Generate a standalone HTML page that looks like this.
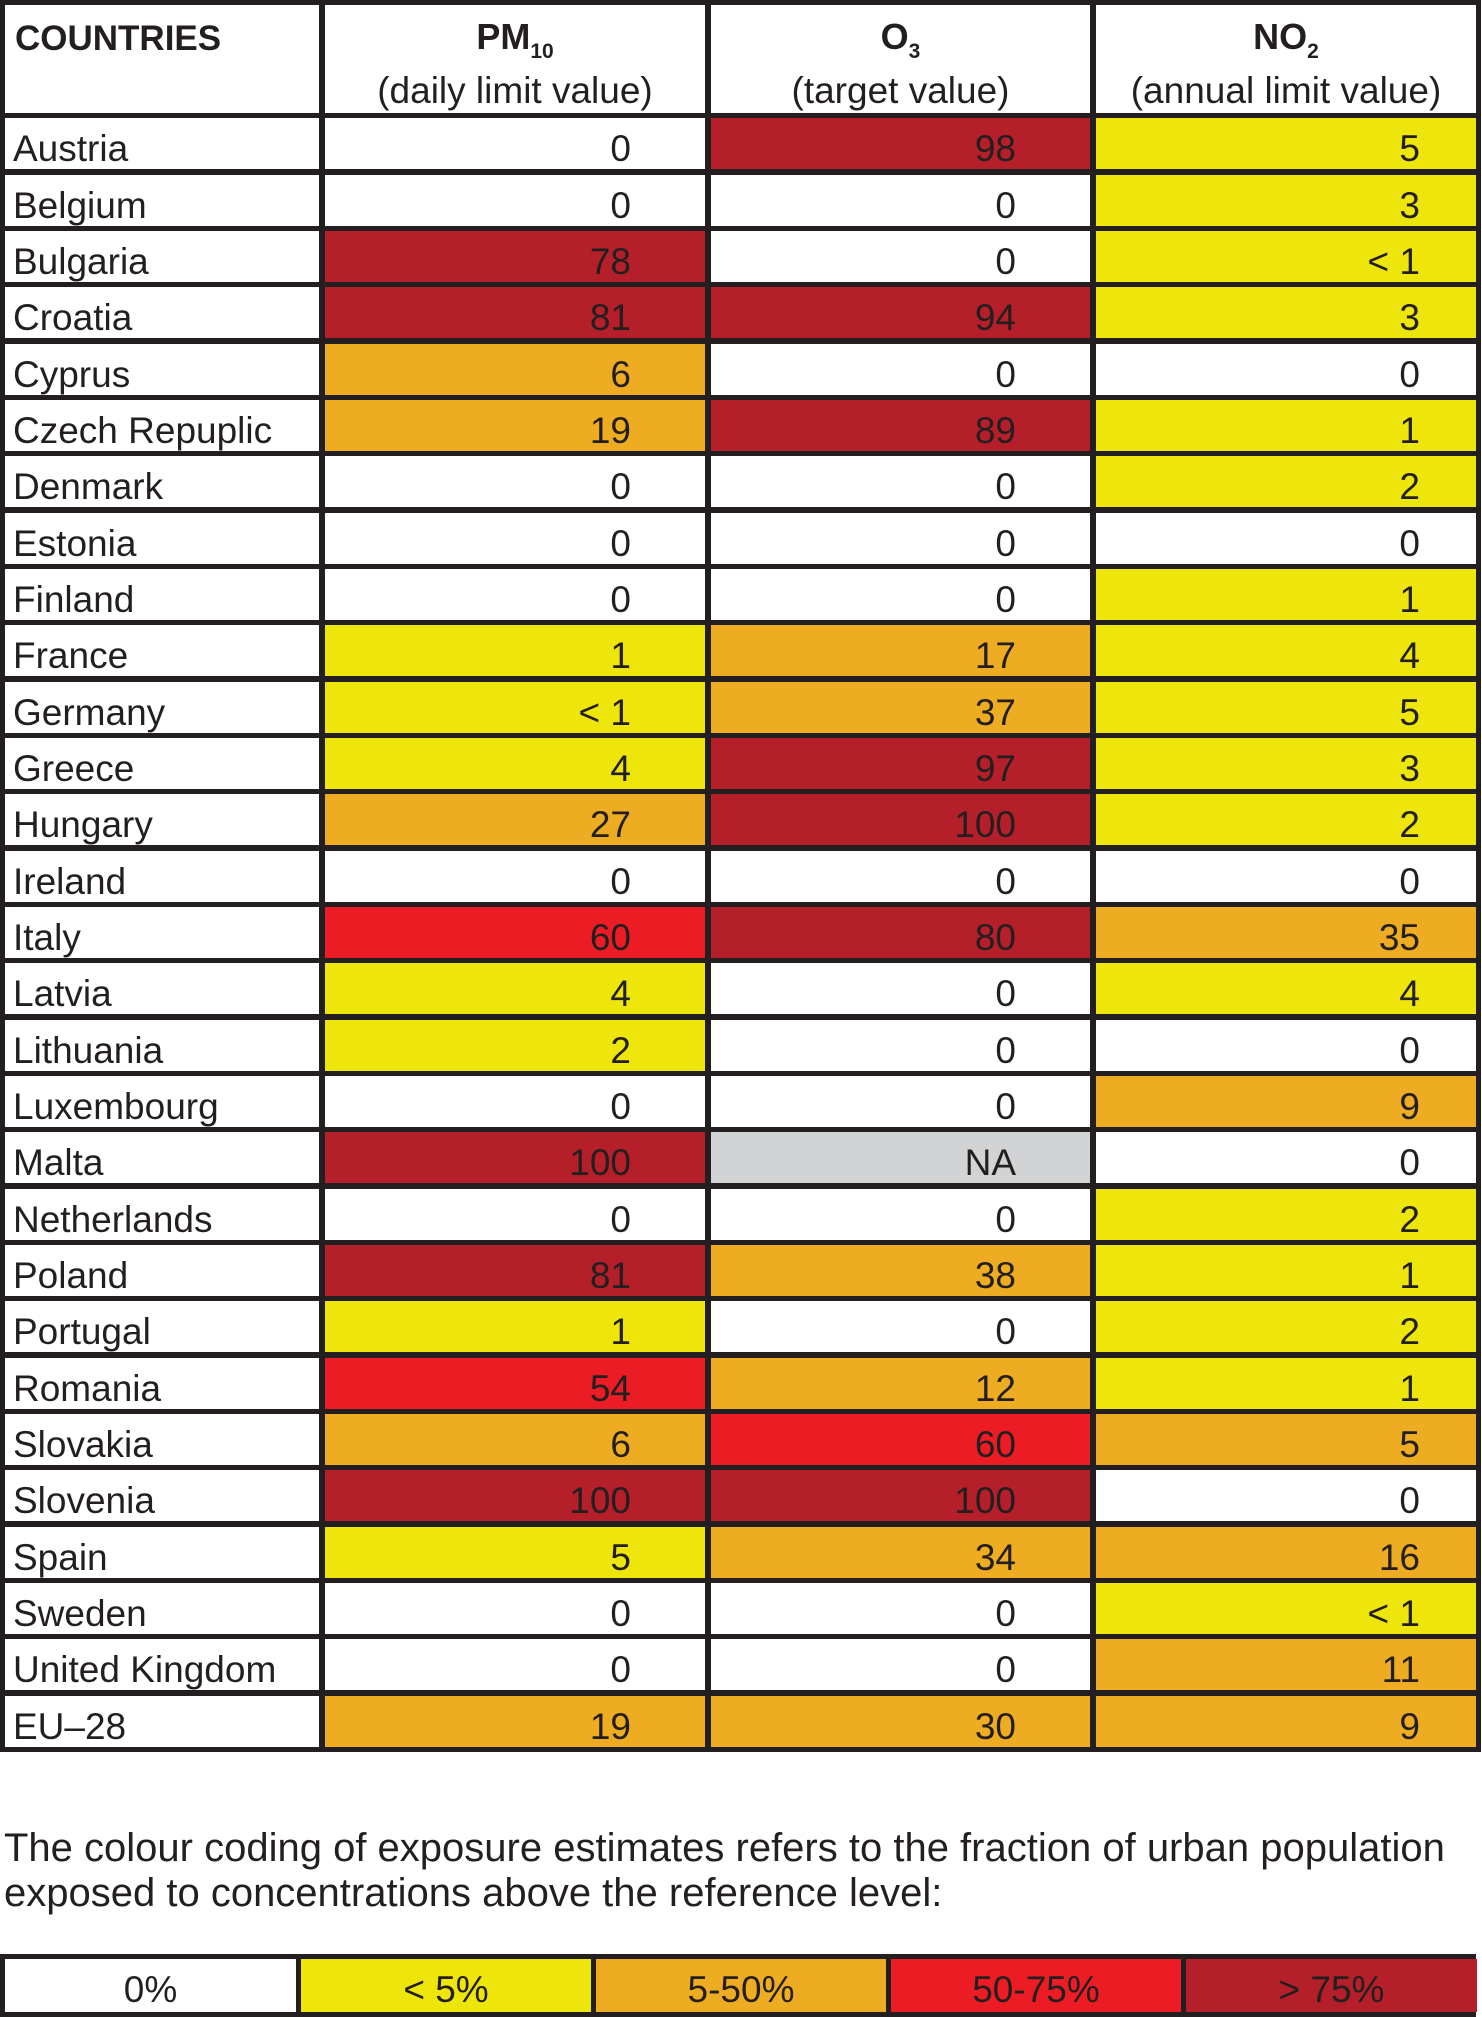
<!DOCTYPE html>
<html><head><meta charset="utf-8">
<style>
html,body{margin:0;padding:0;background:#fff;}
body{width:1482px;height:2017px;position:relative;overflow:hidden;font-family:"Liberation Sans",sans-serif;color:#231F20;}
.g{position:absolute;left:0;top:0;width:1481px;box-sizing:border-box;background:#231F20;padding:5px;display:grid;
grid-template-columns:314px 380px 379px 380px;column-gap:6px;row-gap:5.34px;
grid-template-rows:108px repeat(29,51px);}
.g div{background:#fff;font-size:37px;display:flex;align-items:flex-end;padding-bottom:0;box-sizing:border-box;white-space:nowrap;line-height:40px;}
.g .c{padding-left:8px;}
.g .n{justify-content:flex-end;padding-right:74px;}
.g .n4{justify-content:flex-end;padding-right:56px;}
.g .h{flex-direction:column;align-items:center;justify-content:flex-start;padding:12px 0 0 0;line-height:40px;}
.g .h span+span{margin-top:14px;}
.g .h b{font-size:36px;}
.g .h sub{font-size:21px;font-weight:bold;vertical-align:-9px;line-height:0;}
.Y{background:#EEE60B!important}.O{background:#EDAC22!important}.R{background:#EC1C24!important}.D{background:#B51F29!important}.G{background:#D2D3D5!important}
.p{position:absolute;left:4px;top:1826px;font-size:40px;line-height:45px;width:1480px;white-space:nowrap;}
.l{position:absolute;left:0;top:1954px;width:1476px;height:63px;box-sizing:border-box;background:#231F20;padding:5px;display:grid;grid-template-columns:291px 290px 290px 290px 291px;column-gap:5px;}
.l div{font-size:37px;display:flex;align-items:center;justify-content:center;padding-top:8px;}
</style></head><body>
<div class="g">
<div class="h" style="align-items:flex-start;padding-left:10px;padding-top:14px"><b style="font-size:35px">COUNTRIES</b></div>
<div class="h"><span><b>PM</b><sub>10</sub></span><span>(daily limit value)</span></div>
<div class="h"><span><b>O</b><sub>3</sub></span><span>(target value)</span></div>
<div class="h"><span><b>NO</b><sub>2</sub></span><span>(annual limit value)</span></div>

<div class="c">Austria</div><div class="n">0</div><div class="n D">98</div><div class="n4 Y">5</div>
<div class="c">Belgium</div><div class="n">0</div><div class="n">0</div><div class="n4 Y">3</div>
<div class="c">Bulgaria</div><div class="n D">78</div><div class="n">0</div><div class="n4 Y">&lt; 1</div>
<div class="c">Croatia</div><div class="n D">81</div><div class="n D">94</div><div class="n4 Y">3</div>
<div class="c">Cyprus</div><div class="n O">6</div><div class="n">0</div><div class="n4">0</div>
<div class="c">Czech Repuplic</div><div class="n O">19</div><div class="n D">89</div><div class="n4 Y">1</div>
<div class="c">Denmark</div><div class="n">0</div><div class="n">0</div><div class="n4 Y">2</div>
<div class="c">Estonia</div><div class="n">0</div><div class="n">0</div><div class="n4">0</div>
<div class="c">Finland</div><div class="n">0</div><div class="n">0</div><div class="n4 Y">1</div>
<div class="c">France</div><div class="n Y">1</div><div class="n O">17</div><div class="n4 Y">4</div>
<div class="c">Germany</div><div class="n Y">&lt; 1</div><div class="n O">37</div><div class="n4 Y">5</div>
<div class="c">Greece</div><div class="n Y">4</div><div class="n D">97</div><div class="n4 Y">3</div>
<div class="c">Hungary</div><div class="n O">27</div><div class="n D">100</div><div class="n4 Y">2</div>
<div class="c">Ireland</div><div class="n">0</div><div class="n">0</div><div class="n4">0</div>
<div class="c">Italy</div><div class="n R">60</div><div class="n D">80</div><div class="n4 O">35</div>
<div class="c">Latvia</div><div class="n Y">4</div><div class="n">0</div><div class="n4 Y">4</div>
<div class="c">Lithuania</div><div class="n Y">2</div><div class="n">0</div><div class="n4">0</div>
<div class="c">Luxembourg</div><div class="n">0</div><div class="n">0</div><div class="n4 O">9</div>
<div class="c">Malta</div><div class="n D">100</div><div class="n G">NA</div><div class="n4">0</div>
<div class="c">Netherlands</div><div class="n">0</div><div class="n">0</div><div class="n4 Y">2</div>
<div class="c">Poland</div><div class="n D">81</div><div class="n O">38</div><div class="n4 Y">1</div>
<div class="c">Portugal</div><div class="n Y">1</div><div class="n">0</div><div class="n4 Y">2</div>
<div class="c">Romania</div><div class="n R">54</div><div class="n O">12</div><div class="n4 Y">1</div>
<div class="c">Slovakia</div><div class="n O">6</div><div class="n R">60</div><div class="n4 O">5</div>
<div class="c">Slovenia</div><div class="n D">100</div><div class="n D">100</div><div class="n4">0</div>
<div class="c">Spain</div><div class="n Y">5</div><div class="n O">34</div><div class="n4 O">16</div>
<div class="c">Sweden</div><div class="n">0</div><div class="n">0</div><div class="n4 Y">&lt; 1</div>
<div class="c">United Kingdom</div><div class="n">0</div><div class="n">0</div><div class="n4 O">11</div>
<div class="c">EU–28</div><div class="n O">19</div><div class="n O">30</div><div class="n4 O">9</div>
</div>
<div class="p">The colour coding of exposure estimates refers to the fraction of urban population<br>exposed to concentrations above the reference level:</div>
<div class="l">
<div style="background:#fff">0%</div>
<div style="background:#EEE60B">&lt; 5%</div>
<div style="background:#EDAC22">5-50%</div>
<div style="background:#EC1C24">50-75%</div>
<div style="background:#B51F29">&gt; 75%</div>
</div>
</body></html>
